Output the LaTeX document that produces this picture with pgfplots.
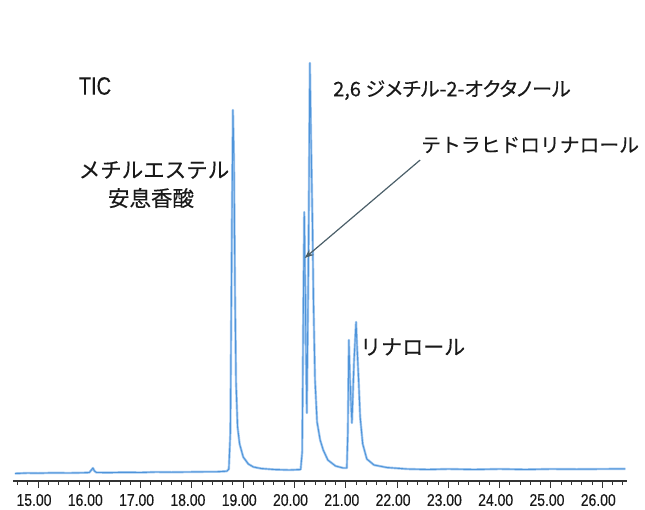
\documentclass[border=0pt]{standalone}
\usepackage{pgfplots}
\pgfplotsset{compat=1.18}
\usepackage{fontspec}
\setmainfont{Liberation Sans}
\newfontfamily\jp[FakeBold=0.25]{Noto Sans CJK JP}
\newfontfamily\jpp[RawFeature=+palt,FakeBold=0.25]{Noto Sans CJK JP}
\newfontfamily\cond[FakeStretch=0.82,FakeBold=0.4]{Liberation Sans}
\newfontfamily\condT[FakeStretch=0.8,FakeBold=0.2]{Liberation Sans}
\usetikzlibrary{arrows.meta}
\definecolor{traceA}{RGB}{165,202,240}
\definecolor{traceB}{RGB}{78,148,218}
\definecolor{arrowc}{RGB}{75,95,105}
\definecolor{txt}{RGB}{25,25,25}
\begin{document}
\begin{tikzpicture}[x=1pt,y=1pt]
\path (0,0) rectangle (645,-506);
\begin{axis}[
  at={(13.4pt,-481pt)}, anchor=south west,
  scale only axis, width=614pt, height=429pt,
  xmin=14.52, xmax=26.49, ymin=-9, ymax=420,
  axis x line=bottom, axis y line=none,
  x axis line style={-, line width=1.3pt, color=black!80},
  xtick={15,16,...,26},
  xticklabels={15.00,16.00,17.00,18.00,19.00,20.00,21.00,22.00,23.00,24.00,25.00,26.00},
  minor xtick={14.6,14.8,15.2,15.4,15.6,15.8,16.2,16.4,16.6,16.8,17.2,17.4,17.6,17.8,18.2,18.4,18.6,18.8,19.2,19.4,19.6,19.8,20.2,20.4,20.6,20.8,21.2,21.4,21.6,21.8,22.2,22.4,22.6,22.8,23.2,23.4,23.6,23.8,24.2,24.4,24.6,24.8,25.2,25.4,25.6,25.8,26.2,26.4},
  tick align=outside,
  major tick length=7pt, minor tick length=4pt,
  every tick/.style={black!80, line width=1pt},
  xticklabel style={font=\cond\fontsize{17}{19}\selectfont, text=txt, xshift=-4pt, yshift=-2.5pt},
  clip=false,
]
\addplot[traceA, line width=2.4pt, line join=round] coordinates {
(14.55,-1.5)(14.8,-1)(15.0,-1.2)(15.3,-0.8)(15.6,-1)(15.9,-0.7)(16.0,-0.5)(16.04,2)(16.07,4)(16.10,1)(16.14,-0.5)(16.4,-0.6)(16.7,-0.3)(17.0,-0.5)(17.3,0)(17.6,-0.2)(17.9,0)(18.2,0.2)(18.5,0.3)(18.68,0.8)(18.72,3)(18.75,40)(18.78,250)(18.80,362)(18.82,310)(18.84,180)(18.86,90)(18.89,45)(18.93,28)(19.00,15)(19.10,8)(19.20,5)(19.35,3.5)(19.6,2.5)(19.9,2)(20.12,2.5)(20.15,20)(20.17,150)(20.19,260)(20.21,180)(20.24,59)(20.27,200)(20.30,409)(20.32,340)(20.35,250)(20.37,170)(20.40,92)(20.44,50)(20.50,32)(20.56,22)(20.65,12)(20.80,6)(20.95,4)(21.02,4)(21.04,40)(21.06,132)(21.08,95)(21.12,49)(21.16,110)(21.20,150)(21.22,125)(21.25,92)(21.28,55)(21.33,28)(21.41,13)(21.55,7)(21.8,4.5)(22.2,3)(22.6,2.5)(23.0,3)(23.5,2.5)(24.0,3)(24.5,2.5)(25.0,3)(25.5,2.8)(26.0,3)(26.45,3.2)
};
\addplot[traceB, line width=0.9pt, line join=round] coordinates {
(14.55,-1.5)(14.8,-1)(15.0,-1.2)(15.3,-0.8)(15.6,-1)(15.9,-0.7)(16.0,-0.5)(16.04,2)(16.07,4)(16.10,1)(16.14,-0.5)(16.4,-0.6)(16.7,-0.3)(17.0,-0.5)(17.3,0)(17.6,-0.2)(17.9,0)(18.2,0.2)(18.5,0.3)(18.68,0.8)(18.72,3)(18.75,40)(18.78,250)(18.80,362)(18.82,310)(18.84,180)(18.86,90)(18.89,45)(18.93,28)(19.00,15)(19.10,8)(19.20,5)(19.35,3.5)(19.6,2.5)(19.9,2)(20.12,2.5)(20.15,20)(20.17,150)(20.19,260)(20.21,180)(20.24,59)(20.27,200)(20.30,409)(20.32,340)(20.35,250)(20.37,170)(20.40,92)(20.44,50)(20.50,32)(20.56,22)(20.65,12)(20.80,6)(20.95,4)(21.02,4)(21.04,40)(21.06,132)(21.08,95)(21.12,49)(21.16,110)(21.20,150)(21.22,125)(21.25,92)(21.28,55)(21.33,28)(21.41,13)(21.55,7)(21.8,4.5)(22.2,3)(22.6,2.5)(23.0,3)(23.5,2.5)(24.0,3)(24.5,2.5)(25.0,3)(25.5,2.8)(26.0,3)(26.45,3.2)
};
\draw[arrowc, line width=1.2pt, -{Stealth[length=9pt,width=7pt]}] (axis cs:22.45,312) -- (axis cs:20.20,214);
\end{axis}
\node[text=txt, inner sep=0pt, font=\condT\fontsize{25}{28}\selectfont] at (95,-86) {TIC};
\node[text=txt, anchor=west, inner sep=0pt, font=\jpp\fontsize{20}{24}\selectfont] at (333,-90) {2,6 ジメチル-2-オクタノール};
\node[text=txt, anchor=west, inner sep=0pt, font=\jp\fontsize{19.8}{24}\selectfont] at (421,-145) {テトラヒドロリナロール};
\node[text=txt, font=\jp\fontsize{21.5}{24}\selectfont] at (154,-170) {メチルエステル};
\node[text=txt, font=\jp\fontsize{21.5}{24}\selectfont] at (151,-198) {安息香酸};
\node[text=txt, anchor=west, inner sep=0pt, font=\jp\fontsize{21}{24}\selectfont] at (360,-347) {リナロール};
\end{tikzpicture}
\end{document}
